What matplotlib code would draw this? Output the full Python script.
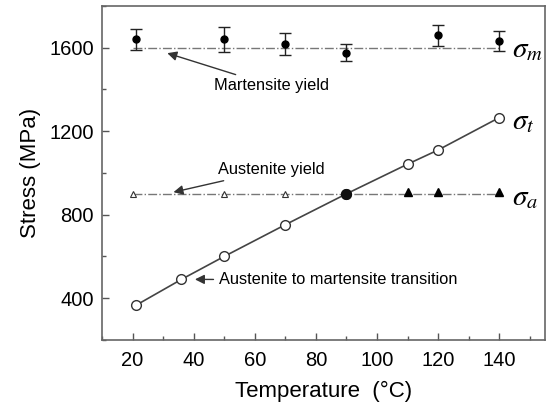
import matplotlib
matplotlib.use("Agg")
import matplotlib.pyplot as plt
from matplotlib.ticker import MultipleLocator
from matplotlib import font_manager

plt.rcParams['font.family'] = ['Liberation Sans', 'DejaVu Sans']
plt.rcParams['mathtext.fontset'] = 'stix'

# Martensite yield stress (sigma_m) with error bars
m_T = [21, 50, 70, 90, 120, 140]
m_val = [1640, 1640, 1618, 1576, 1659, 1632]
m_err = [52, 60, 52, 40, 52, 50]

# Transition stress (sigma_t)
t_T = [21, 36, 50, 70, 90, 110, 120, 140]
t_val = [365, 490, 600, 752, 900, 1042, 1110, 1265]

# Austenite yield stress (sigma_a)
a_open_T = [20, 50, 70]
a_open = [900, 900, 900]
a_fill_T = [110, 120, 140]
a_fill = [908, 908, 908]
cross_T = [90]
cross_val = [900]

# Reference yield lines
yield_T = [20, 140]
m_line = [1600, 1600]
a_line = [900, 900]

names = {f.name for f in font_manager.fontManager.ttflist}
if 'Liberation Sans Narrow' in names:
    ann_font = dict(family=['Liberation Sans Narrow', 'Liberation Sans'], fontsize=14)
else:
    ann_font = dict(family=['Liberation Sans'], fontsize=11.8)

fig = plt.figure(figsize=(5.5, 4.13), dpi=100)
ax = fig.add_axes([0.1855, 0.177, 0.8055, 0.8085])

ax.plot(yield_T, m_line, color='#777777', lw=1.0, ls='-.', zorder=1)
ax.plot(yield_T, a_line, color='#777777', lw=1.0, ls='-.', zorder=1)

ax.errorbar(m_T, m_val, yerr=m_err, fmt='o', color='black', ms=5,
            ecolor='#222222', elinewidth=1.0, capsize=4, capthick=1.0, zorder=3)

ax.plot(t_T, t_val, color='#444444', lw=1.2, marker='o', ms=7,
        mfc='white', mec='#333333', mew=1.0, zorder=2)

ax.plot(a_open_T, a_open, ls='none', marker='^', ms=5, mfc='white',
        mec='#333333', mew=0.8, zorder=3)
ax.plot(a_fill_T, a_fill, ls='none', marker='^', ms=6, color='black', zorder=3)
ax.plot(cross_T, cross_val, ls='none', marker='o', ms=7, color='#111111', zorder=4)

ax.set_xlim(10, 155)
ax.set_ylim(200, 1800)
ax.xaxis.set_minor_locator(MultipleLocator(10))
ax.yaxis.set_minor_locator(MultipleLocator(200))
ax.set_xticks(range(20, 141, 20))
ax.set_yticks([400, 800, 1200, 1600])
ax.tick_params(which='major', direction='in', length=5, width=1, color='#555555',
               labelsize=14.5, pad=8)
ax.tick_params(which='minor', direction='in', length=3, width=1, color='#555555')
ax.tick_params(axis='y', which='major', pad=6)
for s in ax.spines.values():
    s.set_color('#666666')
    s.set_linewidth(1.2)

ax.set_xlabel('Temperature  (°C)', fontsize=16, labelpad=8)
ax.set_ylabel('Stress (MPa)', fontsize=16, labelpad=6)

arrow = dict(arrowstyle='-|>', color='#333333', lw=1.0, mutation_scale=14)
ax.annotate('Martensite yield', xy=(30.5, 1578), xytext=(46.5, 1418),
            va='center', ha='left', arrowprops=arrow, **ann_font)
ax.annotate('Austenite yield', xy=(32.5, 905), xytext=(48, 1015),
            va='center', ha='left', arrowprops=arrow, **ann_font)
ax.annotate('Austenite to martensite transition', xy=(39.5, 490), xytext=(48.3, 488),
            va='center', ha='left', arrowprops=arrow, **ann_font)

ax.text(144.3, 1595, r'$\sigma_m$', fontsize=21, va='center', ha='left')
ax.text(144.3, 1250, r'$\sigma_t$', fontsize=21, va='center', ha='left')
ax.text(144.3, 885, r'$\sigma_a$', fontsize=21, va='center', ha='left')

fig.savefig('out.png', dpi=100)
